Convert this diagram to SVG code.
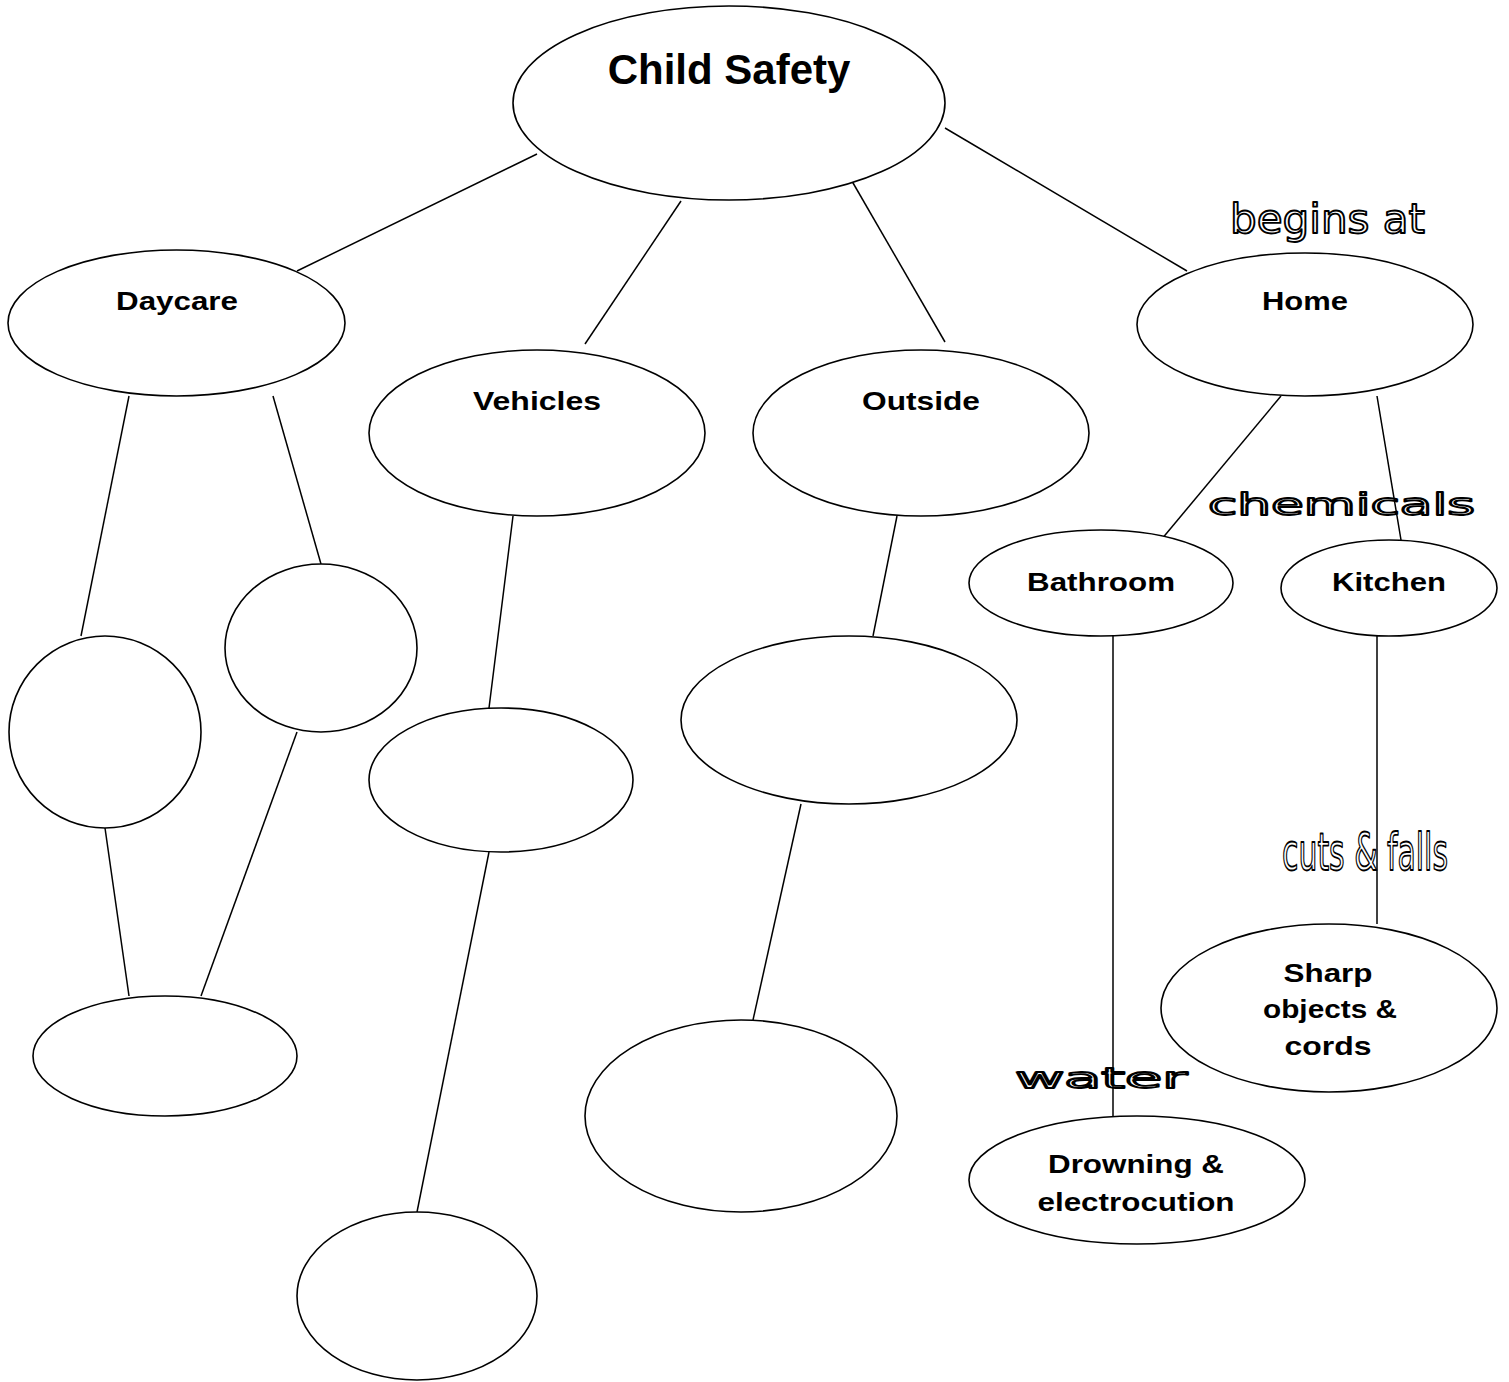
<svg xmlns="http://www.w3.org/2000/svg" width="1509" height="1382" viewBox="0 0 1509 1382">
<style>
.n{fill:#fff;stroke:#000;stroke-width:1.6}
.c line{stroke:#000;stroke-width:1.5}
.t{font-family:"Liberation Sans",Arial,sans-serif;font-weight:bold;font-size:26px;fill:#000;text-anchor:middle}
.h{font-family:"DejaVu Sans","Noto Sans",sans-serif;fill:#fff;stroke:#000;stroke-width:1.8;stroke-linejoin:round;text-anchor:start}
</style>
<rect width="1509" height="1382" fill="#fff"/>
<g id="labels">
<text class="h" x="1230" y="233" font-size="40" textLength="195" lengthAdjust="spacingAndGlyphs">begins at</text>
<text class="h" x="1208" y="515" font-size="30" textLength="267" lengthAdjust="spacingAndGlyphs">chemicals</text>
<text class="h" x="1282" y="870" font-size="52" textLength="166" lengthAdjust="spacingAndGlyphs">cuts &amp; falls</text>
<text class="h" x="1015" y="1088" font-size="28" textLength="172" lengthAdjust="spacingAndGlyphs">water</text>
</g>
<g id="connectors" class="c">
<line x1="537" y1="154" x2="297" y2="271"/>
<line x1="681" y1="201" x2="585" y2="344"/>
<line x1="849" y1="176" x2="945" y2="342"/>
<line x1="945" y1="128" x2="1187" y2="271"/>
<line x1="129" y1="396" x2="81" y2="636"/>
<line x1="273" y1="396" x2="321" y2="564"/>
<line x1="105" y1="828" x2="129" y2="996"/>
<line x1="297" y1="732" x2="201" y2="996"/>
<line x1="513" y1="516" x2="489" y2="708"/>
<line x1="489" y1="852" x2="417" y2="1212"/>
<line x1="897" y1="516" x2="873" y2="636"/>
<line x1="801" y1="804" x2="753" y2="1020"/>
<line x1="1281" y1="396" x2="1161" y2="540"/>
<line x1="1377" y1="396" x2="1401" y2="540"/>
<line x1="1113" y1="636" x2="1113" y2="1116"/>
<line x1="1377" y1="636" x2="1377" y2="924"/>
</g>
<g id="child-safety"><ellipse class="n" cx="729" cy="103" rx="216" ry="97"/><text class="t" x="729" y="84" style="font-size:42px">Child Safety</text></g>
<g id="daycare"><ellipse class="n" cx="176.5" cy="323" rx="168.5" ry="73"/><text class="t" x="177" y="310" textLength="122" lengthAdjust="spacingAndGlyphs">Daycare</text></g>
<g id="vehicles"><ellipse class="n" cx="537" cy="433" rx="168" ry="83"/><text class="t" x="537" y="410" textLength="128" lengthAdjust="spacingAndGlyphs">Vehicles</text></g>
<g id="outside"><ellipse class="n" cx="921" cy="433" rx="168" ry="83"/><text class="t" x="921" y="410" textLength="118" lengthAdjust="spacingAndGlyphs">Outside</text></g>
<g id="home"><ellipse class="n" cx="1305" cy="324.5" rx="168" ry="71.5"/><text class="t" x="1305" y="310" textLength="86" lengthAdjust="spacingAndGlyphs">Home</text></g>
<g id="bathroom"><ellipse class="n" cx="1101" cy="583" rx="132" ry="53"/><text class="t" x="1101" y="591" textLength="148" lengthAdjust="spacingAndGlyphs">Bathroom</text></g>
<g id="kitchen"><ellipse class="n" cx="1389" cy="588" rx="108" ry="48"/><text class="t" x="1389" y="591" textLength="114" lengthAdjust="spacingAndGlyphs">Kitchen</text></g>
<g id="daycare-1"><ellipse class="n" cx="105" cy="732" rx="96" ry="96"/></g>
<g id="daycare-2"><ellipse class="n" cx="321" cy="648" rx="96" ry="84"/></g>
<g id="daycare-3"><ellipse class="n" cx="165" cy="1056" rx="132" ry="60"/></g>
<g id="vehicles-1"><ellipse class="n" cx="501" cy="780" rx="132" ry="72"/></g>
<g id="vehicles-2"><ellipse class="n" cx="417" cy="1296" rx="120" ry="84"/></g>
<g id="outside-1"><ellipse class="n" cx="849" cy="720" rx="168" ry="84"/></g>
<g id="outside-2"><ellipse class="n" cx="741" cy="1116" rx="156" ry="96"/></g>
<g id="sharp"><ellipse class="n" cx="1329" cy="1008" rx="168" ry="84"/>
<text class="t" x="1328" y="982" textLength="89" lengthAdjust="spacingAndGlyphs">Sharp</text>
<text class="t" x="1330" y="1018" textLength="134" lengthAdjust="spacingAndGlyphs">objects &amp;</text>
<text class="t" x="1328" y="1055" textLength="87" lengthAdjust="spacingAndGlyphs">cords</text></g>
<g id="drowning"><ellipse class="n" cx="1137" cy="1180" rx="168" ry="64"/>
<text class="t" x="1136" y="1173" textLength="176" lengthAdjust="spacingAndGlyphs">Drowning &amp;</text>
<text class="t" x="1136" y="1211" textLength="197" lengthAdjust="spacingAndGlyphs">electrocution</text></g>
</svg>
